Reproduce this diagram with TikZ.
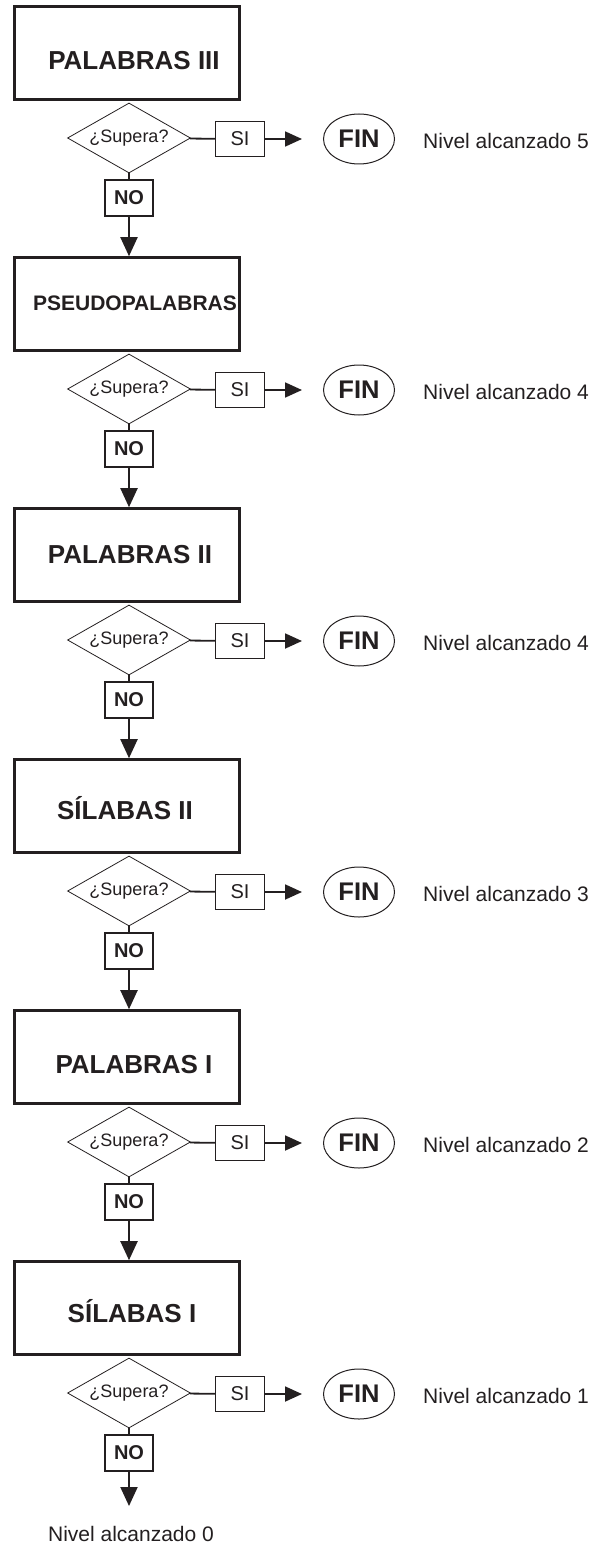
\documentclass[tikz,border=0pt]{standalone}
\usepackage{fontspec}
\setmainfont{Liberation Sans}
\usetikzlibrary{shapes.geometric,arrows.meta}
\definecolor{ink}{HTML}{231F20}
\tikzset{
	mainbox/.style={draw=ink, line width=2.6pt, fill=white, minimum width=225pt, minimum height=93pt, inner sep=0pt},
	mainlabel/.style={text=ink, inner sep=0pt},
	question/.style={draw=ink, diamond, aspect=1.76, line width=0.8pt, minimum width=123pt, minimum height=70pt, inner sep=0pt, text=ink, font=\fontsize{18}{18}\selectfont},
	sibox/.style={draw=ink, line width=1.3pt, minimum width=49pt, minimum height=35pt, inner sep=0pt, text=ink, font=\fontsize{20}{20}\selectfont},
	nobox/.style={draw=ink, line width=2pt, minimum width=48pt, minimum height=36pt, inner sep=0pt, text=ink, font=\bfseries\fontsize{20}{20}\selectfont},
	finnode/.style={draw=ink, ellipse, line width=1pt, minimum width=71pt, minimum height=50pt, inner sep=0pt, text=ink, font=\bfseries\fontsize{25.5}{25.5}\selectfont},
	lvltext/.style={text=ink, inner sep=0pt, font=\fontsize{21}{21}\selectfont},
	downarrow/.style={draw=ink, line width=2pt, -{Triangle[width=17pt,length=19pt]}},
	siarrow/.style={draw=ink, line width=1.8pt, -{Triangle[width=15pt,length=17pt]}, shorten >=21pt}
}
\begin{document}
\begin{tikzpicture}[x=1pt, y=-1pt]
	\useasboundingbox (0,0) rectangle (596,1546);

	% Levels
	\foreach \i/\txt/\fs/\dx/\dy/\lvl in {1/PALABRAS III/26/7/8/5, 2/PSEUDOPALABRAS/21/8/-1/4, 3/PALABRAS II/26/3/0/4, 4/SÍLABAS II/26/-2/2/3, 5/PALABRAS I/26/7/8/2, 6/SÍLABAS I/26/5/3/1}
		{
			\pgfmathsetmacro{\s}{138+251*(\i-1)}
			\node[mainbox] (box\i) at (127, \s-85) {};
			\node[mainlabel, font=\bfseries\fontsize{\fs}{\fs}\selectfont] (lbl\i) at ([shift={(\dx,\dy)}]box\i.center) {\txt};
			\node[question] (ask\i) at (129, \s) {¿Supera?};
			\node[sibox] (si\i) at (240, \s+1) {SI};
			\node[finnode] (fin\i) at (359, \s+1) {FIN};
			\node[lvltext, anchor=west] (lvl\i) at (423, \s+3) {Nivel alcanzado \lvl};
			\node[nobox] (no\i) at (129, \s+60) {NO};

			\draw[draw=ink, line width=1.8pt] (ask\i) -- (si\i);
			\draw[siarrow] (si\i) -- (fin\i);
			\draw[draw=ink, line width=2pt] (ask\i.south) -- (no\i);
		}

	% Edges
	\foreach \i [count=\j from 2] in {1,...,5}
		\draw[downarrow] (no\i) -- (no\i |- box\j.north);

	% Last level
	\coordinate (tip) at (129, 1506);
	\draw[downarrow] (no6) -- (tip);
	\node[lvltext] (lvl0) at (131, 1534) {Nivel alcanzado 0};
\end{tikzpicture}
\end{document}
